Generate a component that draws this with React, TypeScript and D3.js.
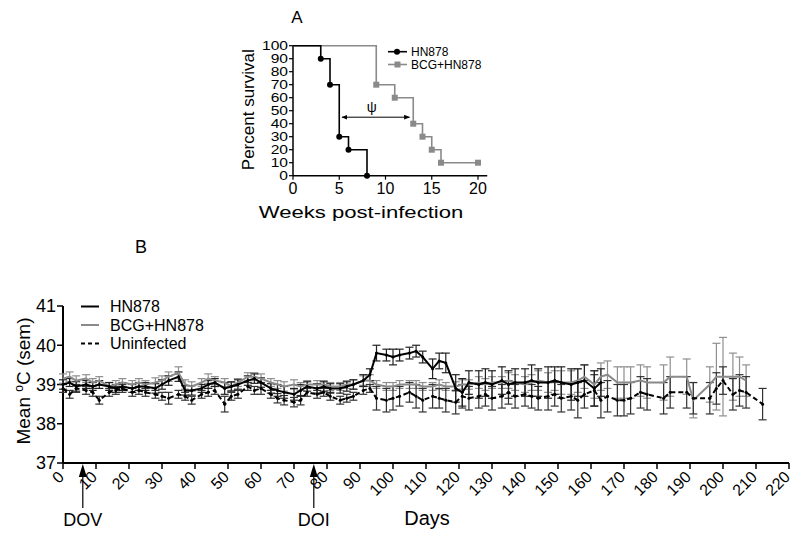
import React from "react";
import * as d3 from "d3";

// ---------- Panel A data (Kaplan–Meier) ----------
const hnWeeks = [0, 3, 4, 5, 6, 8];
const hnSurvival = [100, 90, 70, 30, 20, 0];
const bcgWeeks = [0, 9, 11, 13, 14, 15, 16, 20];
const bcgSurvival = [100, 70, 60, 40, 30, 20, 10, 10];
const survXTicks = [0, 5, 10, 15, 20];
const survYTicks = [0, 10, 20, 30, 40, 50, 60, 70, 80, 90, 100];
const psiArrow = [5.3, 12.6];
const psiLevel = 45;

// ---------- Panel B data (temperature) ----------
const days = [
  0, 2, 4, 7, 9, 11, 14, 16, 18, 21, 23, 25, 28, 30, 32, 35, 37, 39, 42, 44, 46,
  49, 51, 53, 56, 58, 60, 63, 65, 67, 70, 72, 74, 77, 79, 81, 84, 86, 88, 91, 93, 95,
  98, 100, 102, 105, 107, 109, 112, 114, 116, 119, 121, 123, 126, 128, 130, 133, 135, 137,
  140, 142, 144, 147, 149, 151, 154, 156, 158, 161, 163, 165, 168, 170, 172, 175, 177,
  182, 184, 189, 191, 196, 198, 200, 203, 205, 207, 212,
];
const hn878 = [
  39.0, 39.05, 38.95, 39.0, 38.95, 39.0, 38.95, 38.9, 38.95, 38.9, 38.95, 38.95, 38.9, 39.0, 39.1,
  39.2, 38.85, 38.85, 38.9, 39.0, 39.05, 38.9, 38.95, 39.0, 39.1, 39.15, 39.05, 38.9, 38.85, 38.8,
  38.75, 38.85, 38.95, 38.9, 38.95, 38.9, 38.9, 38.95, 39.0, 39.1, 39.25, 39.8, 39.75, 39.7, 39.75,
  39.8, 39.85, 39.7, 39.4, 39.6, 39.55, 38.9, 38.8, 39.05, 39.0, 39.05, 39.0, 39.1, 39.0, 39.05,
  39.05, 39.1, 39.05, 39.05, 39.1, 39.05, 39.0, 39.05, 39.1, 38.9, 39.05,
  null, null, null, null, null, null, null, null, null, null, null, null, null, null, null, null, null,
];
const hn878Sem = [
  0.12, 0.1, 0.12, 0.1, 0.1, 0.1, 0.1, 0.1, 0.1, 0.1, 0.1, 0.1, 0.12, 0.12, 0.12,
  0.12, 0.12, 0.12, 0.1, 0.1, 0.1, 0.15, 0.12, 0.12, 0.12, 0.12, 0.12, 0.12, 0.15, 0.15,
  0.15, 0.15, 0.12, 0.12, 0.12, 0.12, 0.12, 0.12, 0.12, 0.15, 0.15, 0.2, 0.15, 0.2, 0.15,
  0.15, 0.15, 0.15, 0.25, 0.2, 0.25, 0.35, 0.35, 0.3, 0.35, 0.35, 0.35, 0.35, 0.35, 0.35,
  0.35, 0.4, 0.35, 0.4, 0.35, 0.4, 0.4, 0.35, 0.4, 0.45, 0.35,
  null, null, null, null, null, null, null, null, null, null, null, null, null, null, null, null, null,
];
const bcgHn878 = [
  39.15, 39.2, 39.1, 39.15, 39.05, 39.1, 38.95, 39.0, 39.05, 39.0, 39.05, 39.0, 39.05, 39.1, 39.2,
  39.3, 39.0, 38.95, 39.05, 39.15, 39.1, 39.05, 38.95, 39.05, 39.2, 39.2, 39.15, 39.05, 39.0, 38.95,
  39.0, 38.95, 39.0, 39.0, 39.0, 38.95, 38.95, 39.0, 39.0, 39.1, 39.1, 39.0, 38.95, 38.95, 39.0,
  39.0, 39.0, 38.95, 38.95, 39.0, 38.95, 38.95, 39.0, 39.0, 39.05, 39.0, 39.05, 39.05, 39.1, 39.05,
  39.0, 39.05, 39.1, 39.05, 39.1, 39.05, 39.05, 39.1, 39.2, 39.0, 39.2, 39.25, 39.05, 39.05, 39.05,
  39.1, 39.05, 39.05, 39.2, 39.2, 38.6, 39.0, 39.2, 39.2, 39.2, 39.2, 39.1, null,
];
const bcgHn878Sem = [
  0.12, 0.12, 0.12, 0.1, 0.1, 0.1, 0.1, 0.1, 0.1, 0.1, 0.1, 0.1, 0.12, 0.12, 0.12,
  0.15, 0.12, 0.12, 0.1, 0.12, 0.1, 0.1, 0.1, 0.1, 0.1, 0.1, 0.12, 0.1, 0.1, 0.12,
  0.12, 0.1, 0.1, 0.1, 0.1, 0.1, 0.1, 0.1, 0.12, 0.12, 0.15, 0.1, 0.1, 0.1, 0.1,
  0.1, 0.1, 0.1, 0.1, 0.12, 0.1, 0.12, 0.12, 0.12, 0.15, 0.15, 0.15, 0.15, 0.2, 0.2,
  0.2, 0.2, 0.25, 0.25, 0.25, 0.3, 0.3, 0.3, 0.3, 0.35, 0.35, 0.35, 0.4, 0.4, 0.4,
  0.4, 0.4, 0.45, 0.5, 0.45, 0.45, 0.45, 0.85, 1.0, 0.6, 0.5, 0.4, null,
];
const uninfected = [
  38.9, 38.75, 38.9, 38.85, 38.8, 38.6, 38.8, 38.85, 38.9, 38.8, 38.85, 38.8, 38.75, 38.7, 38.65,
  38.75, 38.7, 38.6, 38.75, 38.8, 38.85, 38.5, 38.7, 38.75, 38.95, 38.85, 38.9, 38.75, 38.65, 38.6,
  38.55, 38.6, 38.8, 38.75, 38.8, 38.7, 38.6, 38.65, 38.7, 38.85, 38.9, 38.65, 38.6, 38.65, 38.7,
  38.8, 38.7, 38.6, 38.7, 38.65, 38.6, 38.55, 38.7, 38.65, 38.7, 38.75, 38.65, 38.7, 38.8, 38.7,
  38.75, 38.7, 38.65, 38.7, 38.75, 38.65, 38.7, 38.6, 38.75, 38.85, 38.6, 38.7, 38.6, 38.6, 38.65,
  38.8, 38.75, 38.65, 38.8, 38.8, 38.65, 38.65, 38.9, 39.1, 38.75, 38.85, 38.8, 38.5,
];
const uninfectedSem = [
  0.1, 0.1, 0.1, 0.1, 0.1, 0.1, 0.1, 0.1, 0.1, 0.1, 0.1, 0.1, 0.1, 0.1, 0.15,
  0.1, 0.1, 0.1, 0.1, 0.1, 0.1, 0.2, 0.1, 0.1, 0.1, 0.1, 0.15, 0.1, 0.12, 0.12,
  0.12, 0.12, 0.1, 0.1, 0.1, 0.1, 0.1, 0.1, 0.1, 0.1, 0.1, 0.3, 0.3, 0.3, 0.25,
  0.25, 0.3, 0.3, 0.3, 0.25, 0.3, 0.3, 0.3, 0.3, 0.3, 0.3, 0.3, 0.3, 0.3, 0.3,
  0.3, 0.3, 0.3, 0.35, 0.3, 0.35, 0.35, 0.45, 0.35, 0.4, 0.45, 0.4, 0.4, 0.4, 0.4,
  0.4, 0.4, 0.4, 0.4, 0.4, 0.4, 0.4, 0.4, 0.35, 0.4, 0.4, 0.4, 0.4,
];
const tempYTicks = [37, 38, 39, 40, 41];
const dayTicks = [0, 10, 20, 30, 40, 50, 60, 70, 80, 90, 100, 110, 120, 130, 140, 150, 160, 170, 180, 190, 200, 210, 220];
const eventDays = [6, 76];
const eventLabels = ["DOV", "DOI"];
const legendLabels = ["HN878", "BCG+HN878", "Uninfected"];

const FONT = "Arial, 'Liberation Sans', Helvetica, sans-serif";
const GRAY = "#8a8a8a";

export default function App() {
  // Panel A scales
  const ax = d3.scaleLinear().domain([0, 20]).range([293, 478]);
  const ay = d3.scaleLinear().domain([0, 100]).range([175.7, 45.7]);
  const step = d3
    .line<[number, number]>()
    .x((d) => ax(d[0]))
    .y((d) => ay(d[1]))
    .curve(d3.curveStepAfter);
  const hnPts: [number, number][] = hnWeeks.map((w, i) => [w, hnSurvival[i]]);
  const bcgPts: [number, number][] = bcgWeeks.map((w, i) => [w, bcgSurvival[i]]);

  // Panel B scales
  const bx = d3.scaleLinear().domain([0, 220]).range([63, 789]);
  const by = d3.scaleLinear().domain([37, 41]).range([463, 306]);

  const series = [
    { vals: bcgHn878, sem: bcgHn878Sem, color: GRAY, dash: undefined as string | undefined, bar: "#8f8f8f", dots: false },
    { vals: uninfected, sem: uninfectedSem, color: "#000", dash: "5,3", bar: "#333", dots: true },
    { vals: hn878, sem: hn878Sem, color: "#000", dash: undefined, bar: "#222", dots: true },
  ];

  const lineFor = (vals: (number | null)[]) =>
    d3
      .line<number>()
      .defined((_, i) => vals[i] != null)
      .x((d) => bx(d))
      .y((_, i) => by(vals[i] as number))(days) || "";

  return (
    <svg width={792} height={527} style={{ display: "block", fontFamily: FONT }}>
      <g transform="translate(-8,-8)">
        {/* ---------- Panel A ---------- */}
        <text x={297} y={23} fontSize={17} textAnchor="middle">A</text>
        {/* axes */}
        <line x1={293} x2={293} y1={ay(100)} y2={ay(0)} stroke="#000" strokeWidth={1.5} />
        <line x1={293} x2={ax(21)} y1={ay(0)} y2={ay(0)} stroke="#000" strokeWidth={1.5} />
        {survYTicks.map((t) => (
          <g key={"ay" + t}>
            <line x1={289} x2={293} y1={ay(t)} y2={ay(t)} stroke="#000" strokeWidth={1.2} />
            <text transform={`translate(288,${ay(t)}) scale(1.3,1)`} dy="0.36em" fontSize={12} textAnchor="end">{t}</text>
          </g>
        ))}
        {survXTicks.map((t) => (
          <g key={"ax" + t}>
            <line x1={ax(t)} x2={ax(t)} y1={ay(0)} y2={ay(0) + 4} stroke="#000" strokeWidth={1.2} />
            <text x={ax(t)} y={ay(0) + 18} fontSize={16} textAnchor="middle">{t}</text>
          </g>
        ))}
        <text transform={`translate(361,218) scale(1.3,1)`} fontSize={17} textAnchor="middle">Weeks post-infection</text>
        <text transform={`translate(254,${ay(50) - 1}) rotate(-90)`} fontSize={17} textAnchor="middle">Percent survival</text>
        {/* curves */}
        <path d={step(bcgPts) || ""} fill="none" stroke={GRAY} strokeWidth={1.6} />
        <path d={step(hnPts) || ""} fill="none" stroke="#000" strokeWidth={1.6} />
        {bcgPts.slice(1).map((p, i) => (
          <rect key={"bm" + i} x={ax(p[0]) - 3} y={ay(p[1]) - 3} width={6} height={6} fill={GRAY} />
        ))}
        {hnPts.slice(1).map((p, i) => (
          <circle key={"hm" + i} cx={ax(p[0])} cy={ay(p[1])} r={3} fill="#000" />
        ))}
        {/* psi arrow */}
        <defs>
          <marker id="ah" viewBox="0 0 10 10" refX={9} refY={5} markerWidth={6} markerHeight={6} orient="auto-start-reverse">
            <path d="M0,1 L10,5 L0,9 z" fill="#000" />
          </marker>
        </defs>
        <line x1={ax(psiArrow[0])} x2={ax(psiArrow[1])} y1={ay(psiLevel)} y2={ay(psiLevel)} stroke="#000" strokeWidth={1} markerStart="url(#ah)" markerEnd="url(#ah)" />
        <text x={ax((psiArrow[0] + psiArrow[1]) / 2) - 4} y={ay(psiLevel) - 5} fontSize={14} textAnchor="middle">ψ</text>
        {/* legend A */}
        {[{ label: "HN878", c: "#000", sq: false }, { label: "BCG+HN878", c: GRAY, sq: true }].map((l, i) => (
          <g key={"la" + i} transform={`translate(0,${51.7 + i * 12.8})`}>
            <line x1={388} x2={407} y1={0} y2={0} stroke={l.c} strokeWidth={1.6} />
            {l.sq ? <rect x={394.5} y={-3} width={6} height={6} fill={l.c} /> : <circle cx={397} cy={0} r={3} fill={l.c} />}
            <text x={411} y={0} dy="0.36em" fontSize={12}>{l.label}</text>
          </g>
        ))}

        {/* ---------- Panel B ---------- */}
        <text x={141} y={253} fontSize={18} textAnchor="middle">B</text>
        <line x1={63} x2={63} y1={by(41)} y2={by(37)} stroke="#000" strokeWidth={2} />
        <line x1={63} x2={bx(220)} y1={by(37)} y2={by(37)} stroke="#000" strokeWidth={2} />
        {tempYTicks.map((t) => (
          <g key={"by" + t}>
            <line x1={57} x2={63} y1={by(t)} y2={by(t)} stroke="#000" strokeWidth={1.5} />
            <text x={56} y={by(t)} dy="0.36em" fontSize={18} textAnchor="end">{t}</text>
          </g>
        ))}
        {dayTicks.map((t) => (
          <g key={"bx" + t}>
            <line x1={bx(t)} x2={bx(t)} y1={by(37)} y2={by(37) + 6} stroke="#000" strokeWidth={1.5} />
            <text transform={`translate(${bx(t) - 2},${by(37) + 11}) rotate(-45)`} dy="0.35em" fontSize={16} textAnchor="end">{t}</text>
          </g>
        ))}
        <text x={427} y={525} fontSize={20} textAnchor="middle">Days</text>
        <text transform={`translate(30,381) rotate(-90)`} fontSize={19} textAnchor="middle">
          Mean <tspan dy={-7} fontSize={12}>o</tspan><tspan dy={7}>C (sem)</tspan>
        </text>
        {eventDays.map((d, i) => (
          <g key={"ev" + i}>
            <line x1={bx(d)} x2={bx(d)} y1={by(37) + 12} y2={508} stroke="#000" strokeWidth={1.2} />
            <path d={`M${bx(d)},${by(37) + 1} L${bx(d) - 4},${by(37) + 14} L${bx(d) + 4},${by(37) + 14} Z`} fill="#000" />
            <text x={bx(d)} y={526} fontSize={18} textAnchor="middle">{eventLabels[i]}</text>
          </g>
        ))}

        {series.map((s, si) => (
          <g key={"s" + si}>
            {days.map((d, i) => {
              const v = s.vals[i];
              const e = s.sem[i];
              if (v == null || e == null) return null;
              const x = bx(d);
              return (
                <g key={i} stroke={s.bar} strokeWidth={1.2}>
                  <line x1={x} x2={x} y1={by(v - e)} y2={by(v + e)} />
                  <line x1={x - 4} x2={x + 4} y1={by(v - e)} y2={by(v - e)} />
                  <line x1={x - 4} x2={x + 4} y1={by(v + e)} y2={by(v + e)} />
                </g>
              );
            })}
          </g>
        ))}
        {series.map((s, si) => (
          <g key={"l" + si}>
            <path d={lineFor(s.vals)} fill="none" stroke={s.color} strokeWidth={2} strokeDasharray={s.dash} />
            {s.dots &&
              days.map((d, i) =>
                s.vals[i] == null ? null : <circle key={i} cx={bx(d)} cy={by(s.vals[i] as number)} r={1.5} fill="#000" />
              )}
          </g>
        ))}

        {/* legend B */}
        {legendLabels.map((l, i) => (
          <g key={"lb" + i} transform={`translate(0,${306.5 + i * 18.5})`}>
            <line x1={81} x2={99} y1={0} y2={0} stroke={i === 1 ? GRAY : "#000"} strokeWidth={2} strokeDasharray={i === 2 ? "4,3" : undefined} />
            <text x={110} y={0} dy="0.36em" fontSize={16}>{l}</text>
          </g>
        ))}
      </g>
    </svg>
  );
}
